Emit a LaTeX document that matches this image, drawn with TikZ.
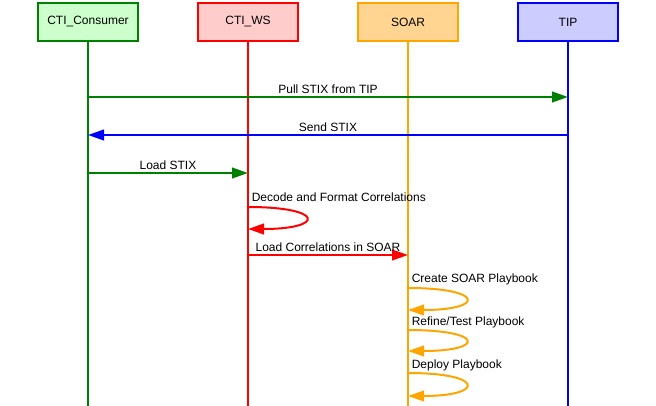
\documentclass[tikz,border=0pt]{standalone}
\usepackage{fontspec}
\setmainfont{Liberation Sans}
\usetikzlibrary{arrows.meta}
\definecolor{gborder}{HTML}{008000}
\definecolor{gfill}{HTML}{CCFFCC}
\definecolor{rborder}{HTML}{FF0000}
\definecolor{rfill}{HTML}{FFCCCC}
\definecolor{oborder}{HTML}{FFA500}
\definecolor{ofill}{HTML}{FFD591}
\definecolor{bborder}{HTML}{0000FF}
\definecolor{bfill}{HTML}{CCCCFF}
\tikzset{
  actor/.style={draw, line width=1.5pt, minimum width=75pt, minimum height=28.5pt, inner sep=0pt, font=\fontsize{9pt}{11pt}\selectfont},
  life/.style={line width=1.5pt},
  msg/.style={line width=1.5pt, -{Triangle[length=12pt,width=8pt]}},
  lbl/.style={font=\fontsize{9pt}{11pt}\selectfont, inner sep=0pt, anchor=base},
  lbll/.style={font=\fontsize{9pt}{11pt}\selectfont, inner sep=0pt, anchor=base west},
}
\begin{document}
\begin{tikzpicture}[x=0.75pt,y=-0.75pt]
\useasboundingbox (0,0) rectangle (656,406);
% actors
\node[actor, draw=gborder, fill=gfill] (cons) at (88,22) {CTI\_Consumer};
\node[actor, draw=rborder, fill=rfill] (ws) at (248,22) {CTI\_WS};
\node[actor, draw=oborder, fill=ofill] (soar) at (408,22) {SOAR};
\node[actor, draw=bborder, fill=bfill] (tip) at (568,22) {TIP};
% lifeline ends
\coordinate (consE) at (88,406);
\coordinate (wsE) at (248,406);
\coordinate (soarE) at (408,406);
\coordinate (tipE) at (568,406);
\draw[life, gborder] (cons.south) -- (consE);
\draw[life, rborder] (ws.south) -- (wsE);
\draw[life, oborder] (soar.south) -- (soarE);
\draw[life, bborder] (tip.south) -- (tipE);
% message points
\coordinate (p1a) at (88,97);  \coordinate (p1b) at (568,97);
\coordinate (p2a) at (568,135); \coordinate (p2b) at (88,135);
\coordinate (p3a) at (88,173);  \coordinate (p3b) at (248,173);
\coordinate (l1a) at (248,207); \coordinate (l1b) at (248,229);
\coordinate (p4a) at (248,255); \coordinate (p4b) at (408,255);
\coordinate (l2a) at (408,288); \coordinate (l2b) at (408,310);
\coordinate (l3a) at (408,330); \coordinate (l3b) at (408,351);
\coordinate (l4a) at (408,373); \coordinate (l4b) at (408,396);
% messages
\draw[msg, gborder] (p1a) -- (p1b);
\node[lbl] (t1) at (328,93.5) {Pull STIX from TIP};
\draw[msg, bborder] (p2a) -- (p2b);
\node[lbl] (t2) at (328,131.5) {Send STIX};
\draw[msg, gborder] (p3a) -- (p3b);
\node[lbl] (t3) at (168,169.5) {Load STIX};
\draw[msg, rborder] (l1a) .. controls (325,207) and (325,229) .. (l1b);
\node[lbll] (t4) at (251.5,201.5) {Decode and Format Correlations};
\draw[msg, rborder] (p4a) -- (p4b);
\node[lbl] (t5) at (328,251) {Load Correlations in SOAR};
\draw[msg, oborder] (l2a) .. controls (485,288) and (485,310) .. (l2b);
\node[lbll] (t6) at (411.5,282.5) {Create SOAR Playbook};
\draw[msg, oborder] (l3a) .. controls (485,330) and (485,351) .. (l3b);
\node[lbll] (t7) at (411.5,325) {Refine/Test Playbook};
\draw[msg, oborder] (l4a) .. controls (485,373) and (485,396) .. (l4b);
\node[lbll] (t8) at (411.5,368) {Deploy Playbook};
\end{tikzpicture}
\end{document}
